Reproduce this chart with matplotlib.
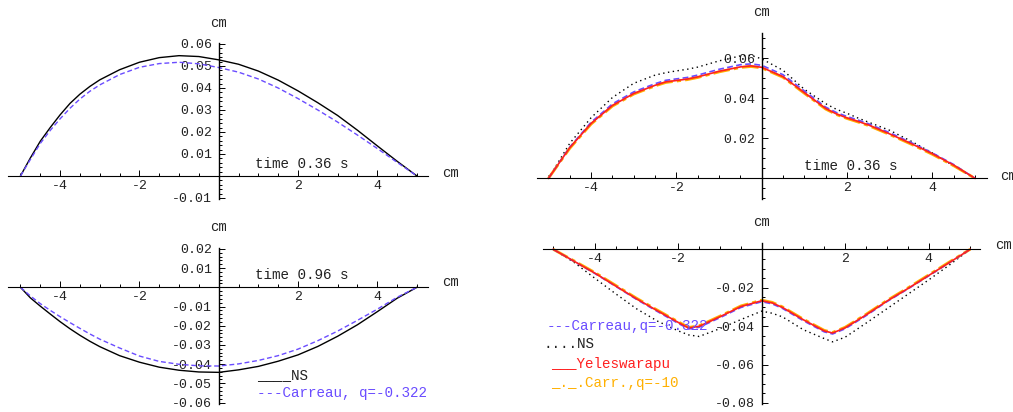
import matplotlib
matplotlib.use("Agg")
import matplotlib.pyplot as plt
from matplotlib.ticker import MultipleLocator, FormatStrFormatter

W, H = 1013, 412
plt.rcParams['font.family'] = ['Liberation Mono', 'DejaVu Sans Mono']
plt.rcParams['axes.unicode_minus'] = False

BLUE = '#6a4cff'
RED = '#ff2020'
ORANGE = '#ffb000'

# left column, t = 0.36 s and t = 0.96 s
x_left = [-5, -4.75, -4.5, -4.25, -4, -3.75, -3.5, -3.25, -3, -2.5, -2, -1.5,
          -1, -0.5, 0, 0.5, 1, 1.5, 2, 2.5, 3, 3.5, 4, 4.5, 5]
ns_036 = [0, 0.0082, 0.0158, 0.0220, 0.0278, 0.0330, 0.0372, 0.0407, 0.0437,
          0.0483, 0.0517, 0.0538, 0.0547, 0.0543, 0.0528, 0.0508, 0.0477,
          0.0436, 0.0387, 0.0333, 0.0275, 0.0208, 0.0137, 0.0067, 0]
carreau_036 = [0, 0.0075, 0.0148, 0.0207, 0.0260, 0.0308, 0.0350, 0.0385,
               0.0414, 0.0461, 0.0494, 0.0511, 0.0517, 0.0510, 0.0493, 0.0472,
               0.0441, 0.0400, 0.0352, 0.0300, 0.0245, 0.0186, 0.0125, 0.0062, 0]
ns_096 = [0, -0.0055, -0.0098, -0.0139, -0.0179, -0.0216, -0.0250, -0.0281,
          -0.0309, -0.0356, -0.0390, -0.0416, -0.0432, -0.0441, -0.0443,
          -0.0430, -0.0412, -0.0385, -0.0352, -0.0308, -0.0255, -0.0195,
          -0.0127, -0.0057, 0]
carreau_096 = [0, -0.0045, -0.0085, -0.0120, -0.0153, -0.0184, -0.0214,
               -0.0243, -0.0270, -0.0316, -0.0358, -0.0386, -0.0401, -0.0409,
               -0.0410, -0.0399, -0.0381, -0.0356, -0.0322, -0.0278, -0.0228,
               -0.0172, -0.0114, -0.0052, 0]

# right column, top (t = 0.36 s)
x_rt = [-5, -4.5, -4, -3.5, -3, -2.5, -2.25, -2, -1.75, -1.5, -1, -0.5, -0.25,
        0, 0.5, 1, 1.5, 1.75, 2, 2.25, 2.5, 3, 3.5, 4, 4.5, 5]
yeles_rt = [0, 0.0153, 0.0274, 0.0364, 0.0424, 0.0465, 0.0482, 0.0489, 0.0496,
            0.0507, 0.0535, 0.0557, 0.0562, 0.0555, 0.0508, 0.0428, 0.0349,
            0.0322, 0.0302, 0.0285, 0.0267, 0.0222, 0.0174, 0.0123, 0.0066, 0]
carreau_rt = [0, 0.0156, 0.0280, 0.0372, 0.0432, 0.0473, 0.0490, 0.0497,
              0.0504, 0.0516, 0.0545, 0.0568, 0.0572, 0.0565, 0.0518, 0.0437,
              0.0356, 0.0329, 0.0309, 0.0292, 0.0273, 0.0228, 0.0179, 0.0127,
              0.0069, 0]
carr10_rt = [0, 0.0150, 0.0271, 0.0361, 0.0421, 0.0462, 0.0479, 0.0486,
             0.0493, 0.0504, 0.0532, 0.0554, 0.0559, 0.0552, 0.0505, 0.0425,
             0.0346, 0.0319, 0.0299, 0.0282, 0.0264, 0.0219, 0.0171, 0.0120,
             0.0063, 0]
ns_rt = [0, 0.0175, 0.0303, 0.0404, 0.0475, 0.0516, 0.0528, 0.0537, 0.0545,
         0.0556, 0.0587, 0.0612, 0.0615, 0.0597, 0.0540, 0.0445, 0.0373,
         0.0345, 0.0325, 0.0302, 0.0281, 0.0240, 0.0186, 0.0127, 0.0062, 0]

# right column, bottom
x_rb = [-5, -4.5, -4, -3.5, -3, -2.5, -2, -1.75, -1.5, -1, -0.5, 0, 0.25, 0.5,
        1, 1.5, 1.7, 2, 2.5, 3, 3.5, 4, 4.5, 5]
yeles_rb = [0, -0.0062, -0.0124, -0.0191, -0.0258, -0.0320, -0.0381, -0.0410,
            -0.0401, -0.0351, -0.0298, -0.0268, -0.0279, -0.0303, -0.0367,
            -0.0425, -0.0436, -0.0409, -0.0342, -0.0270, -0.0205, -0.0137,
            -0.0069, 0]
carreau_rb = [0, -0.0063, -0.0126, -0.0193, -0.0261, -0.0324, -0.0386, -0.0415,
              -0.0406, -0.0356, -0.0303, -0.0273, -0.0284, -0.0308, -0.0372,
              -0.0430, -0.0441, -0.0414, -0.0346, -0.0273, -0.0207, -0.0139,
              -0.0070, 0]
carr10_rb = [0, -0.0060, -0.0121, -0.0188, -0.0255, -0.0317, -0.0378, -0.0407,
             -0.0398, -0.0348, -0.0295, -0.0265, -0.0276, -0.0300, -0.0364,
             -0.0422, -0.0433, -0.0406, -0.0339, -0.0267, -0.0202, -0.0134,
             -0.0066, 0]
ns_rb = [0, -0.0068, -0.0151, -0.0232, -0.0310, -0.0374, -0.0425, -0.0446,
         -0.0454, -0.0413, -0.0366, -0.0322, -0.0333, -0.0352, -0.0419,
         -0.0465, -0.0482, -0.0458, -0.0385, -0.0310, -0.0235, -0.0160,
         -0.0082, 0]

fig = plt.figure(figsize=(W / 100, H / 100), dpi=100)


def panel(left, top, right, bottom, x0, xs, y0, ys, yticks, yminor):
    # axes box in pixels, origin pixel (x0, y0), pixels per data unit (xs, ys)
    ax = fig.add_axes([left / W, 1 - bottom / H, (right - left) / W, (bottom - top) / H])
    ax.set_xlim((left - x0) / xs, (right - x0) / xs)
    ax.set_ylim((y0 - bottom) / ys, (y0 - top) / ys)
    ax.patch.set_visible(False)
    ax.spines['top'].set_visible(False)
    ax.spines['right'].set_visible(False)
    ax.spines['left'].set_position(('data', 0))
    ax.spines['bottom'].set_position(('data', 0))
    ax.spines['left'].set_linewidth(1.0)
    ax.spines['bottom'].set_linewidth(0.8)
    ax.set_xticks([-4, -2, 2, 4])
    ax.xaxis.set_minor_locator(MultipleLocator(0.5))
    ax.set_yticks(yticks)
    ax.yaxis.set_minor_locator(MultipleLocator(yminor))
    ax.yaxis.set_major_formatter(FormatStrFormatter('%.2f'))
    ax.tick_params(which='both', direction='in', width=0.7, color='black',
                   labelsize=9.5, labelcolor='#222222')
    ax.tick_params(which='major', length=4)
    ax.tick_params(which='minor', length=2.2)
    ax.tick_params(axis='x', pad=3)
    ax.tick_params(axis='y', pad=5)
    return ax


def ftext(x, y, s, **kw):
    kw.setdefault('fontsize', 10.3)
    kw.setdefault('color', '#222222')
    fig.text(x / W, 1 - y / H, s, va='center', **kw)


# top-left
ax1 = panel(8, 42.7, 428, 199, 218.7, 39.65, 176, 2200,
            [-0.01, 0.01, 0.02, 0.03, 0.04, 0.05, 0.06], 0.002)
ax1.plot(x_left, ns_036, color='black', lw=1.0)
ax1.plot(x_left, carreau_036, color=BLUE, lw=1.0, dashes=(3.5, 2))

# bottom-left
ax2 = panel(8, 248.3, 428, 404, 218.7, 39.65, 287.3, 1920,
            [-0.06, -0.05, -0.04, -0.03, -0.02, -0.01, 0.01, 0.02], 0.002)
ax2.plot(x_left, ns_096, color='black', lw=1.0)
ax2.plot(x_left, carreau_096, color=BLUE, lw=1.0, dashes=(3.5, 2))

# top-right
ax3 = panel(536.7, 32.7, 986.7, 199, 761.7, 42.65, 178.3, 2000,
            [0.02, 0.04, 0.06], 0.005)
ax3.plot(x_rt, ns_rt, color='black', lw=1.0, dashes=(1, 2.5))
ax3.plot(x_rt, carr10_rt, color=ORANGE, lw=2.0, dashes=(6, 1.5, 1.5, 1.5))
ax3.plot(x_rt, carreau_rt, color=BLUE, lw=1.2, dashes=(3.5, 2))
ax3.plot(x_rt, yeles_rt, color=RED, lw=1.2)

# bottom-right
ax4 = panel(542.7, 242.7, 980, 403.5, 761.7, 41.7, 249.3, 1920,
            [-0.08, -0.06, -0.04, -0.02], 0.005)
ax4.plot(x_rb, ns_rb, color='black', lw=1.0, dashes=(1, 2.5))
ax4.plot(x_rb, carr10_rb, color=ORANGE, lw=2.0, dashes=(6, 1.5, 1.5, 1.5))
ax4.plot(x_rb, carreau_rb, color=BLUE, lw=1.2, dashes=(3.5, 2))
ax4.plot(x_rb, yeles_rb, color=RED, lw=1.2)

# axis unit labels
for (cx, cy) in [(218.7, 23), (218.7, 227.3), (761.7, 12), (761.7, 221.7)]:
    ftext(cx, cy, 'cm', ha='center', fontsize=10)
for (cx, cy) in [(441.7, 173), (441.7, 282.3), (1000, 176), (995, 245)]:
    ftext(cx, cy, 'cm', ha='left', fontsize=10)

ftext(255, 164, 'time 0.36 s')
ftext(804, 165.7, 'time 0.36 s')
ftext(255, 275, 'time 0.96 s')

ftext(256.7, 375, '____NS', color='#222222')
ftext(256.7, 393.3, '---Carreau, q=-0.322', color=BLUE)

ftext(546.7, 326, '---Carreau,q=-0.322', color=BLUE)
ftext(543.3, 344.3, '....NS', color='#222222')
ftext(551, 364.3, '___Yeleswarapu', color=RED)
ftext(551, 383.3, '_._.Carr.,q=-10', color=ORANGE)

fig.savefig('out.png', dpi=100)
